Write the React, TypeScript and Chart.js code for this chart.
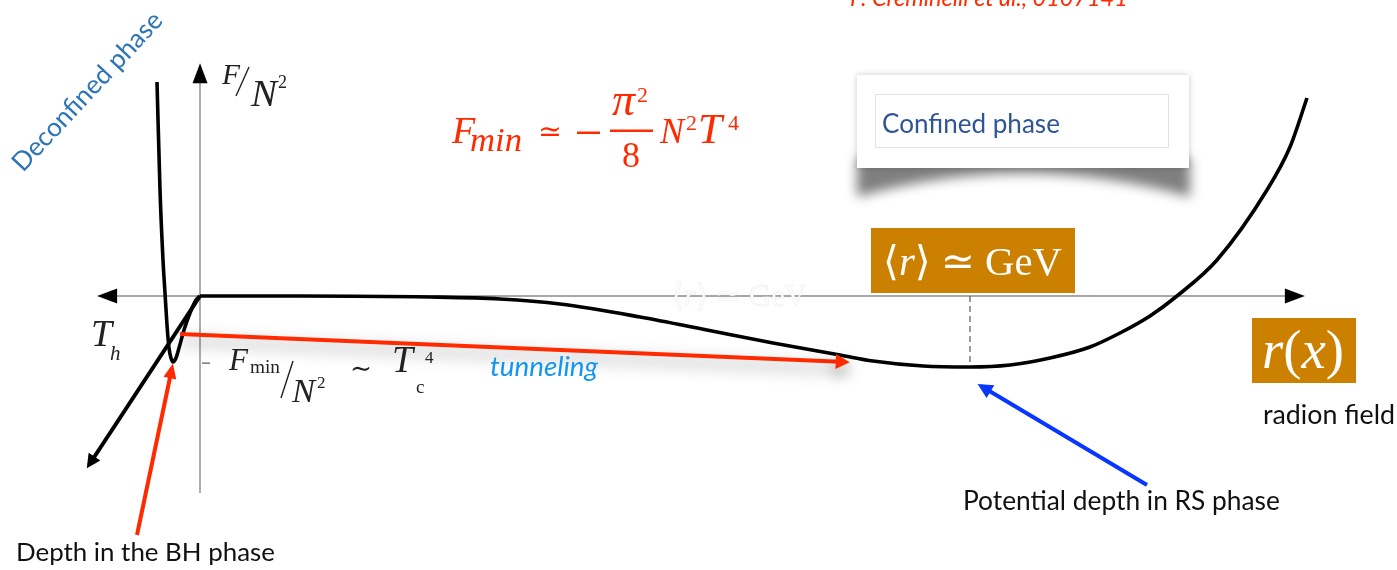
import { useEffect, useRef } from "react";
import { Chart, registerables } from "chart.js";

Chart.register(...registerables);

const W = 1397;
const H = 570;

// Plot window in field / free-energy units (origin where the axes cross)
const R_MIN = -200;
const R_MAX = 1197;
const F_MIN = -274;
const F_MAX = 296;

// Black-hole (deconfined) well of F/N² near r = 0
const wellR = [-43, -40, -37, -35, -33, -31, -29, -27, -24, -21, -16, -10, -4, 0];
const wellF = [214, 106, 36, 3, -29, -52, -62, -66, -62, -52, -34, -17, -4, 0];

// RS (confined) branch of the radion potential
const rsR = [0, 100, 230, 300, 360, 440, 507, 573, 640, 673, 723, 770, 810, 850, 890, 920, 950, 977, 1017, 1067, 1090, 1107];
const rsF = [0, 0, -1, -3, -8, -21, -34, -47, -59, -65, -70, -71, -69, -62, -51, -37, -20, 0, 36, 106, 149, 198];

// Direction of growing Hawking temperature T_h
const hotR = [0, -111];
const hotF = [0, -169];

// Axes
const axisR = [-101, 1103];
const axisF = [-197, 231];

// Vacuum expectation value of r at the RS minimum
const vevR = [770, 770];
const vevF = [0, -71];

// Tunneling from the BH well to the RS phase
const tunnelR = [-20, 646];
const tunnelF = [-38, -66];

// Pointer to the depth of the BH well
const bhDepthR = [-63, -28];
const bhDepthF = [-239, -72];

// Pointer to the depth of the RS minimum
const rsDepthR = [947, 781];
const rsDepthF = [-189, -90];

const RED = "#ff2a00";
const SERIF = "'Liberation Serif', 'DejaVu Serif', serif";
const SANS = "Lato, 'Open Sans', sans-serif";
const ORANGE = "#cc8000";

const pts = (xs: number[], ys: number[]) => xs.map((x, i) => ({ x, y: ys[i] }));

type TextOpt = {
  size: number;
  family: string;
  color: string;
  style?: string;
  fit?: number;
  align?: CanvasTextAlign;
  baseline?: CanvasTextBaseline;
};

function put(ctx: CanvasRenderingContext2D, s: string, x: number, y: number, o: TextOpt) {
  const font = (sz: number) => `${o.style ?? "normal"} normal ${sz}px ${o.family}`;
  let size = o.size;
  ctx.font = font(size);
  if (o.fit) {
    size = (size * o.fit) / ctx.measureText(s).width;
    ctx.font = font(size);
  }
  ctx.fillStyle = o.color;
  ctx.textAlign = o.align ?? "left";
  ctx.textBaseline = o.baseline ?? "alphabetic";
  ctx.fillText(s, x, y);
  return x + ctx.measureText(s).width;
}

// Draws a run of pieces (text, italic?) scaled together to a given width
function run(
  ctx: CanvasRenderingContext2D,
  pieces: [string, boolean][],
  x: number,
  y: number,
  size: number,
  width: number,
  color: string,
  mode: "fill" | "ghost" = "fill"
) {
  const font = (it: boolean, sz: number) => `${it ? "italic" : "normal"} normal ${sz}px ${SERIF}`;
  let total = 0;
  for (const [s, it] of pieces) {
    ctx.font = font(it, size);
    total += ctx.measureText(s).width;
  }
  const sz = (size * width) / total;
  let cx = x;
  ctx.textAlign = "left";
  ctx.textBaseline = "alphabetic";
  for (const [s, it] of pieces) {
    ctx.font = font(it, sz);
    if (mode === "ghost") {
      ctx.fillStyle = "#ffffff";
      ctx.fillText(s, cx, y);
      ctx.strokeStyle = "rgba(200,200,200,0.3)";
      ctx.lineWidth = 0.7;
      ctx.strokeText(s, cx, y);
    } else {
      ctx.fillStyle = color;
      ctx.fillText(s, cx, y);
    }
    cx += ctx.measureText(s).width;
  }
}

function head(
  ctx: CanvasRenderingContext2D,
  a: { x: number; y: number },
  b: { x: number; y: number },
  len: number,
  half: number,
  lineW: number,
  color: string
) {
  const dx = b.x - a.x;
  const dy = b.y - a.y;
  const d = Math.hypot(dx, dy) || 1;
  const ux = dx / d;
  const uy = dy / d;
  const ext = ((lineW / 2) * len) / half;
  const tx = b.x + ux * ext;
  const ty = b.y + uy * ext;
  const bx = tx - ux * len;
  const by = ty - uy * len;
  ctx.beginPath();
  ctx.moveTo(tx, ty);
  ctx.lineTo(bx - uy * half, by + ux * half);
  ctx.lineTo(bx + uy * half, by - ux * half);
  ctx.closePath();
  ctx.fillStyle = color;
  ctx.fill();
}

function slash(ctx: CanvasRenderingContext2D, x1: number, y1: number, x2: number, y2: number) {
  ctx.beginPath();
  ctx.moveTo(x1, y1);
  ctx.lineTo(x2, y2);
  ctx.strokeStyle = "#222";
  ctx.lineWidth = 1.4;
  ctx.stroke();
}

function confinedCard(ctx: CanvasRenderingContext2D) {
  ctx.save();
  ctx.filter = "blur(6px)";
  ctx.fillStyle = "rgba(0,0,0,0.5)";
  ctx.beginPath();
  ctx.moveTo(857, 158);
  ctx.lineTo(1190, 158);
  ctx.lineTo(1190, 197);
  ctx.quadraticCurveTo(1023, 150, 857, 197);
  ctx.closePath();
  ctx.fill();
  ctx.filter = "none";
  ctx.shadowColor = "rgba(0,0,0,0.22)";
  ctx.shadowBlur = 6;
  ctx.fillStyle = "#ffffff";
  ctx.fillRect(857, 75, 332, 93);
  ctx.shadowColor = "transparent";
  ctx.strokeStyle = "#e2e2e2";
  ctx.lineWidth = 1;
  ctx.strokeRect(875.5, 94.5, 293, 53);
  ctx.restore();
  put(ctx, "Confined phase", 882, 133, { size: 24, family: SANS, color: "#2f5597", fit: 178 });
}

function labels(ctx: CanvasRenderingContext2D) {
  ctx.save();
  // faint copy of the VEV label lying on the axis
  run(ctx, [["⟨", false], ["r", true], ["⟩ ≃ GeV", false]], 672, 306, 36, 135, "#fff", "ghost");

  // phase names and reference
  ctx.save();
  ctx.translate(23, 173);
  ctx.rotate((-47 * Math.PI) / 180);
  put(ctx, "Deconfined phase", 0, 0, { size: 25, family: SANS, color: "#2e75b6", fit: 207 });
  ctx.restore();
  put(ctx, "P. Creminelli et al., 0107141", 850, 6, { size: 22, family: SANS, style: "italic", color: RED, fit: 278 });

  // y-axis title F/N²
  const ink = "#222";
  put(ctx, "F", 222, 84, { size: 28, family: SERIF, style: "italic", color: ink, fit: 18 });
  slash(ctx, 236, 96, 249, 67);
  put(ctx, "N", 251, 106, { size: 34, family: SERIF, style: "italic", color: ink, fit: 26 });
  put(ctx, "2", 278, 88, { size: 18, family: SERIF, color: ink });

  // T_h
  put(ctx, "T", 91, 346, { size: 32, family: SERIF, style: "italic", color: ink, fit: 21 });
  put(ctx, "h", 110, 360, { size: 21, family: SERIF, style: "italic", color: ink });

  // - F_min/N² ~ T_c⁴
  ctx.fillStyle = "#555";
  ctx.fillRect(202, 362.5, 8, 1.2);
  put(ctx, "F", 229, 370, { size: 26, family: SERIF, style: "italic", color: ink, fit: 19 });
  put(ctx, "min", 250, 373, { size: 19, family: SERIF, color: ink, fit: 30 });
  slash(ctx, 281, 398, 293, 361);
  put(ctx, "N", 292, 402, { size: 32, family: SERIF, style: "italic", color: ink, fit: 23 });
  put(ctx, "2", 317, 388, { size: 17, family: SERIF, color: ink });
  put(ctx, "∼", 361, 370, { size: 30, family: SERIF, color: ink, align: "center", baseline: "middle", fit: 22 });
  put(ctx, "T", 392, 372, { size: 28, family: SERIF, style: "italic", color: ink, fit: 21 });
  put(ctx, "c", 416, 393, { size: 19, family: SERIF, color: ink });
  put(ctx, "4", 425, 363, { size: 17, family: SERIF, color: ink });

  // F_min ≃ -π²/8 N² T⁴
  put(ctx, "F", 452, 143, { size: 38, family: SERIF, style: "italic", color: RED });
  put(ctx, "min", 470, 151, { size: 32, family: SERIF, style: "italic", color: RED, fit: 52 });
  put(ctx, "≃", 550, 133, { size: 32, family: SERIF, color: RED, align: "center", baseline: "middle", fit: 24 });
  ctx.fillStyle = RED;
  ctx.fillRect(577, 131.5, 23, 2.5);
  put(ctx, "π", 612, 115, { size: 30, family: SERIF, style: "italic", color: RED, fit: 23 });
  put(ctx, "2", 637, 102, { size: 22, family: SERIF, color: RED });
  ctx.fillStyle = RED;
  ctx.fillRect(610, 129.5, 43, 2.5);
  put(ctx, "8", 622, 167, { size: 31, family: SERIF, color: RED, fit: 18 });
  put(ctx, "N", 660, 143, { size: 38, family: SERIF, style: "italic", color: RED, fit: 24 });
  put(ctx, "2", 686, 130, { size: 22, family: SERIF, color: RED });
  put(ctx, "T", 698, 143, { size: 38, family: SERIF, style: "italic", color: RED, fit: 24 });
  put(ctx, "4", 728, 130, { size: 22, family: SERIF, color: RED });

  // VEV box and field box
  ctx.fillStyle = ORANGE;
  ctx.fillRect(871, 228, 204, 65);
  run(ctx, [["⟨", false], ["r", true], ["⟩ ≃ GeV", false]], 883, 275, 40, 179, "#fff");
  ctx.fillStyle = ORANGE;
  ctx.fillRect(1252, 318, 104, 65);
  run(ctx, [["r", true], ["(", false], ["x", true], [")", false]], 1262, 368, 42, 82, "#fff");

  // captions
  put(ctx, "radion field", 1263, 424, { size: 24, family: SANS, color: "#111", fit: 132 });
  put(ctx, "Potential depth in RS phase", 963, 510, { size: 24, family: SANS, color: "#111", fit: 317 });
  put(ctx, "Depth in the BH phase", 16, 561, { size: 24, family: SANS, color: "#111", fit: 259 });
  put(ctx, "tunneling", 490, 376, { size: 22, family: SANS, style: "italic", color: "#1296f0", fit: 108 });
  ctx.restore();
}

const decor = {
  id: "decor",
  beforeDatasetsDraw(chart: any) {
    confinedCard(chart.ctx);
  },
  beforeDatasetDraw(chart: any, args: any) {
    const ds = chart.data.datasets[args.index];
    if (ds.shadow) {
      const c = chart.ctx;
      c.save();
      c.shadowColor = "rgba(0,0,0,0.42)";
      c.shadowBlur = 16;
      c.shadowOffsetY = 7;
    }
  },
  afterDatasetDraw(chart: any, args: any) {
    const ds = chart.data.datasets[args.index];
    const p = args.meta.data;
    const c = chart.ctx;
    const col = ds.headColor ?? ds.borderColor;
    if (ds.arrowEnd) head(c, p[p.length - 2], p[p.length - 1], ds.arrowEnd[0], ds.arrowEnd[1], ds.borderWidth, col);
    if (ds.arrowStart) head(c, p[1], p[0], ds.arrowStart[0], ds.arrowStart[1], ds.borderWidth, col);
    if (ds.shadow) c.restore();
  },
  afterDatasetsDraw(chart: any) {
    labels(chart.ctx);
  },
};

function line(data: { x: number; y: number }[], color: string, width: number, order: number, extra: Record<string, unknown> = {}) {
  return {
    data,
    borderColor: color,
    backgroundColor: color,
    borderWidth: width,
    pointRadius: 0,
    showLine: true,
    fill: false,
    clip: false,
    order,
    ...extra,
  };
}

export default function App() {
  const ref = useRef<HTMLCanvasElement>(null);
  useEffect(() => {
    document.body.style.margin = "0";
    const chart = new Chart(ref.current!, {
      type: "scatter",
      data: {
        datasets: [
          line(pts(tunnelR, tunnelF), RED, 4, 1, { arrowEnd: [14, 7.5], shadow: true }),
          line(pts(bhDepthR, bhDepthF), RED, 4, 1, { arrowEnd: [15, 6.5] }),
          line(pts(rsDepthR, rsDepthF), "#0836ff", 4, 1, { arrowEnd: [15, 7.5] }),
          line(pts(hotR, hotF), "#000", 4, 2, { arrowEnd: [14, 7] }),
          line(pts(wellR, wellF), "#000", 3.6, 3, { cubicInterpolationMode: "monotone" }),
          line(pts(rsR, rsF), "#000", 3.6, 3, { cubicInterpolationMode: "monotone" }),
          line(pts(vevR, vevF), "#666", 1.3, 4, { borderDash: [6, 4] }),
          line(pts(axisR, [0, 0]), "#8a8a8a", 1.4, 5, { arrowStart: [20, 7.5], arrowEnd: [20, 7.5], headColor: "#000" }),
          line(pts([0, 0], axisF), "#8a8a8a", 1.4, 5, { arrowEnd: [20, 7.5], headColor: "#000" }),
        ] as any,
      },
      options: {
        animation: false,
        responsive: false,
        devicePixelRatio: 1,
        events: [],
        layout: { padding: 0 },
        plugins: { legend: { display: false }, tooltip: { enabled: false } },
        scales: {
          x: { type: "linear", display: false, min: R_MIN, max: R_MAX },
          y: { type: "linear", display: false, min: F_MIN, max: F_MAX },
        },
      },
      plugins: [decor],
    });
    return () => chart.destroy();
  }, []);
  return <canvas ref={ref} width={W} height={H} style={{ display: "block" }} />;
}
